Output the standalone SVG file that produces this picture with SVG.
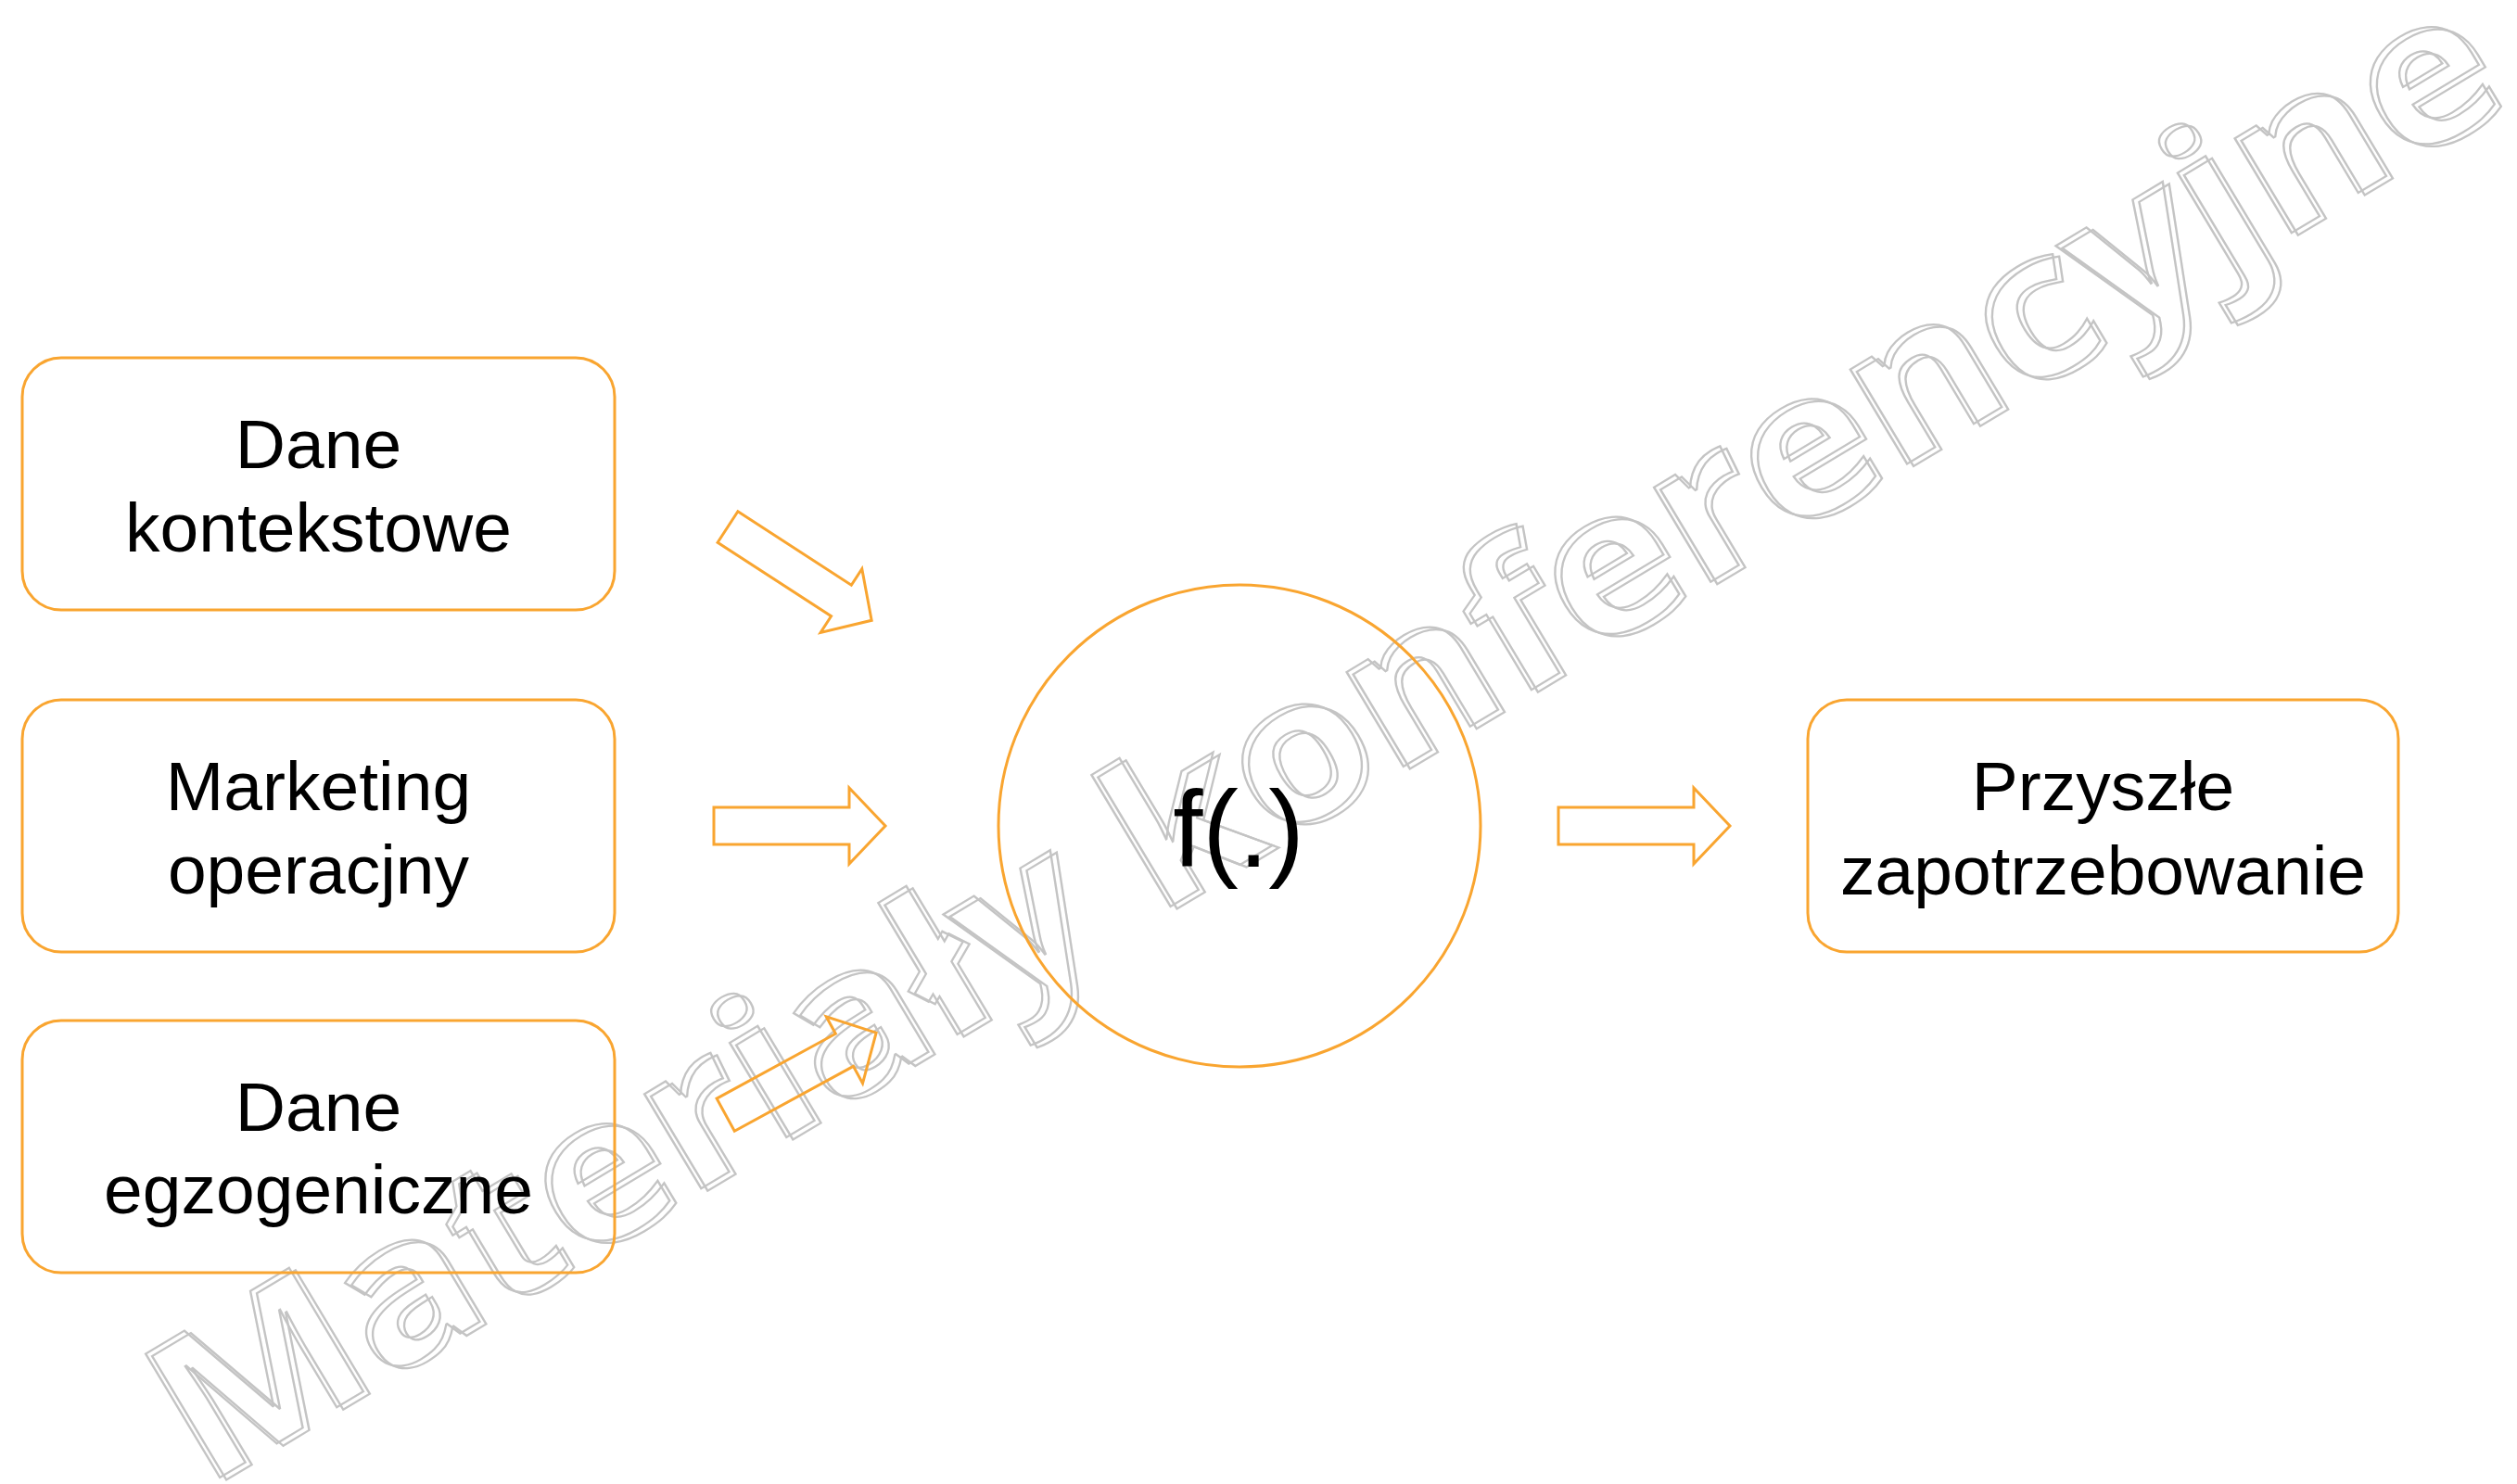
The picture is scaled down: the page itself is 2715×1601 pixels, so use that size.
<svg xmlns="http://www.w3.org/2000/svg" width="2715" height="1601" viewBox="0 0 2715 1601">
  <style>
    .box { fill: none; stroke: #F9A530; stroke-width: 3; }
    .arrow { fill: none; stroke: #F9A530; stroke-width: 3; stroke-linejoin: miter; }
    .lbl { font-family: "Liberation Sans", Arial, sans-serif; font-size: 75px; fill: #000; text-anchor: middle; }
    .fn { font-family: "Liberation Sans", Arial, sans-serif; font-size: 116px; fill: #000; text-anchor: middle; }
    .wm { font-family: "Open Sans", "DejaVu Sans", sans-serif; font-weight: 700; font-size: 218px; fill: none; stroke: #C4C4C4; stroke-width: 2.2; }
  </style>
  <defs>
    <polygon id="blockArrow" points="0,-20 146,-20 146,-41 185,0 146,41 146,20 0,20"/>
  </defs>
  <rect width="2715" height="1601" fill="#fff"/>

  <g id="watermark">
    <text class="wm" transform="translate(219,1605) rotate(-31)" textLength="2905" lengthAdjust="spacingAndGlyphs">Materiały konferencyjne</text>
    <text class="wm" transform="translate(226,1607.5) rotate(-31)" textLength="2905" lengthAdjust="spacingAndGlyphs">Materiały konferencyjne</text>
  </g>

  <g id="node-dane-kontekstowe">
    <rect class="box" x="24" y="386" width="639" height="272" rx="42" ry="42"/>
    <text class="lbl" x="343.5" y="505">Dane</text>
    <text class="lbl" x="343.5" y="595">kontekstowe</text>
  </g>
  <g id="node-marketing">
    <rect class="box" x="24" y="755" width="639" height="272" rx="42" ry="42"/>
    <text class="lbl" x="343.5" y="874">Marketing</text>
    <text class="lbl" x="343.5" y="964">operacjny</text>
  </g>
  <g id="node-dane-egzogeniczne">
    <rect class="box" x="24" y="1101" width="639" height="272" rx="42" ry="42"/>
    <text class="lbl" x="343.5" y="1220">Dane</text>
    <text class="lbl" x="343.5" y="1309">egzogeniczne</text>
  </g>
  <g id="node-f">
    <circle class="box" cx="1337" cy="891" r="260"/>
    <text class="fn" x="1336" y="935">f(.)</text>
  </g>
  <g id="node-przyszle">
    <rect class="box" x="1950" y="755" width="637" height="272" rx="42" ry="42"/>
    <text class="lbl" x="2268.5" y="874">Przyszłe</text>
    <text class="lbl" x="2268.5" y="965">zapotrzebowanie</text>
  </g>

  <g id="connectors">
    <use href="#blockArrow" class="arrow" transform="translate(785,568.5) rotate(33)"/>
    <use href="#blockArrow" class="arrow" transform="translate(770,891)"/>
    <use href="#blockArrow" class="arrow" transform="translate(782.7,1202.7) rotate(-28.6)"/>
    <use href="#blockArrow" class="arrow" transform="translate(1681,891)"/>
  </g>
</svg>
